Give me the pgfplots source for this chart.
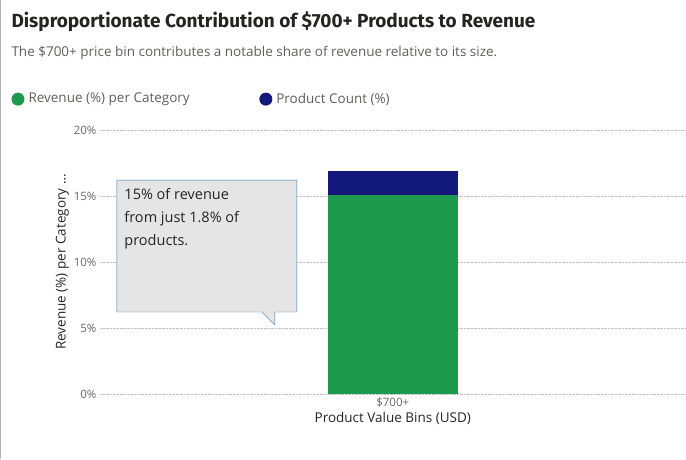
\documentclass[border=0pt]{standalone}
\usepackage{pgfplots}
\pgfplotsset{compat=1.18}
\usepackage{fontspec}
\setmainfont{Open Sans}
\newfontfamily\titlefont{Fira Sans}
\definecolor{grn}{HTML}{1E9A4F}
\definecolor{nvy}{HTML}{12197A}
\definecolor{txt}{HTML}{252423}
\definecolor{sub}{HTML}{605E5C}
\definecolor{tck}{HTML}{666666}
\begin{document}
\begin{tikzpicture}
\path (0pt,0pt) rectangle (686pt,459pt);
\draw[gray!60] (0.5pt,0pt) -- (0.5pt,459pt);
\node[anchor=west,font=\titlefont\bfseries\fontsize{19}{22}\selectfont,text=txt] at (8pt,437pt) {Disproportionate Contribution of \$700+ Products to Revenue};
\node[anchor=west,font=\fontsize{13.5}{16}\selectfont,text=sub] at (8pt,406pt) {The \$700+ price bin contributes a notable share of revenue relative to its size.};
\fill[grn] (18pt,360pt) circle (6.5pt);
\node[anchor=west,font=\fontsize{13.5}{16}\selectfont,text=sub] at (25pt,360pt) {Revenue (\%) per Category};
\fill[nvy] (266pt,360pt) circle (6.5pt);
\node[anchor=west,font=\fontsize{13.5}{16}\selectfont,text=sub] at (273pt,360pt) {Product Count (\%)};
\begin{axis}[at={(100pt,65pt)},anchor=south west,scale only axis,width=586pt,height=264pt,
  xmin=-1,xmax=1,ymin=0,ymax=20,ybar stacked,bar width=130pt,
  xtick={0},xticklabels={\$700+},ytick={0,5,10,15,20},
  yticklabel={\pgfmathprintnumber{\tick}\%},
  axis line style={draw=none},tick style={draw=none},
  ymajorgrids,grid style={densely dotted,gray!50,line width=0.8pt},
  ticklabel style={font=\fontsize{11.5}{14}\selectfont,text=tck},
  /pgf/number format/assume math mode=true,
  xlabel={Product Value Bins (USD)},ylabel={Revenue (\%) per Category \dots},
  label style={font=\fontsize{13.5}{16}\selectfont,text=txt},
  xlabel style={yshift=2pt},ylabel style={yshift=-2pt},
  clip=false]
\addplot[fill=grn,draw=none] coordinates {(0,15.1)};
\addplot[fill=nvy,draw=none] coordinates {(0,1.8)};
\end{axis}
\draw[fill=gray!20,draw={rgb,255:red,47;green,126;blue,192}]
  (117pt,279pt) -- (297pt,279pt) -- (297pt,147pt) -- (275pt,147pt) -- (275pt,134pt) -- (262pt,147pt) -- (117pt,147pt) -- cycle;
\node[anchor=north west,align=left,font=\fontsize{14.5}{23}\selectfont,text=txt] at (121pt,274pt)
  {15\% of revenue\\from just 1.8\% of\\products.};
\end{tikzpicture}
\end{document}
